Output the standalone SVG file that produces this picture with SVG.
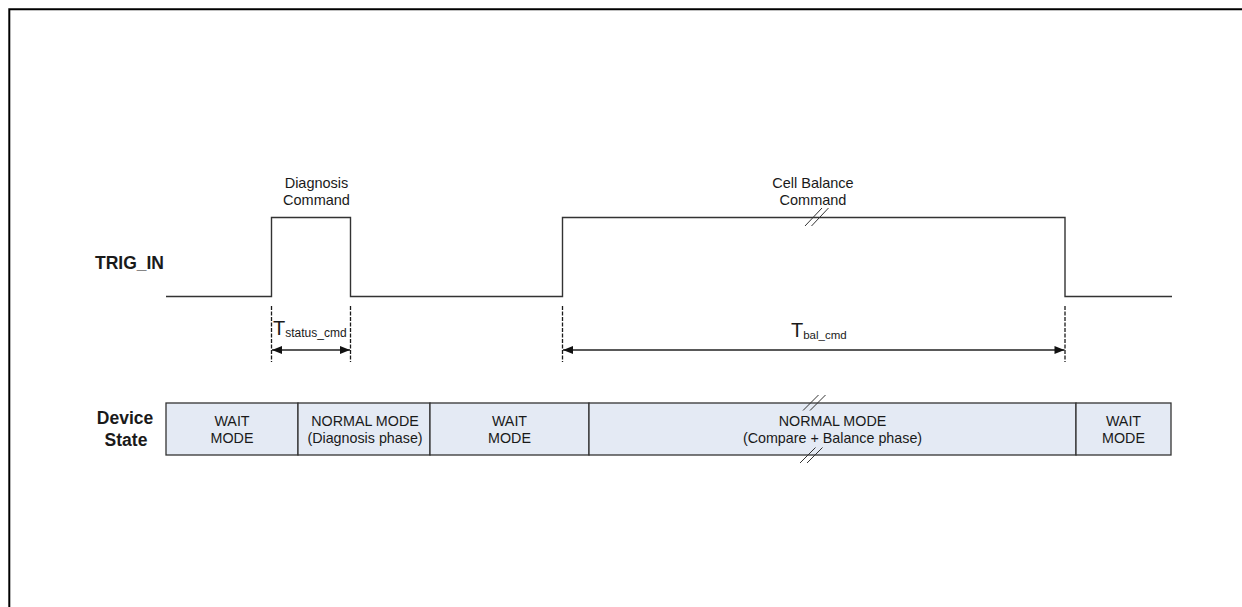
<svg xmlns="http://www.w3.org/2000/svg" width="1242" height="607" viewBox="0 0 1242 607">
  <defs>
    <marker id="arrow" viewBox="0 0 10 8" refX="10" refY="4" markerWidth="11" markerHeight="8" markerUnits="userSpaceOnUse" orient="auto-start-reverse">
      <path d="M0,0 L10,4 L0,8 Z" fill="#111"/>
    </marker>
    <style>
      text { font-family: "Liberation Sans", Arial, sans-serif; fill: #1a1a1a; }
      .lbl { font-size: 17.5px; font-weight: bold; text-anchor: middle; }
      .cmd { font-size: 14.5px; text-anchor: middle; }
      .mode { font-size: 14.3px; text-anchor: middle; }
      .sig { fill: none; stroke: #333; stroke-width: 1.4; }
      .ext { fill: none; stroke: #1a1a1a; stroke-width: 1.3; stroke-dasharray: 4 1.5; }
      .dim { fill: none; stroke: #222; stroke-width: 1.3; marker-start: url(#arrow); marker-end: url(#arrow); }
      .brk { fill: none; stroke: #333; stroke-width: 1; }
      .cell { fill: #e4eaf4; stroke: #333; stroke-width: 1.3; }
    </style>
  </defs>

  <rect width="1242" height="607" fill="#ffffff"/>

  <!-- frame -->
  <path d="M9.3,607 V9.3 H1242" fill="none" stroke="#000" stroke-width="2"/>

  <!-- row labels -->
  <g id="label-trig">
    <text class="lbl" x="129.5" y="269">TRIG_IN</text>
  </g>
  <g id="label-state">
    <text class="lbl" x="125" y="424">Device</text>
    <text class="lbl" x="126" y="446">State</text>
  </g>

  <!-- TRIG_IN waveform -->
  <g id="waveform">
    <path class="sig" d="M166,296.5 H271.5 V217.5 H350.5 V296.5 H562.5 V217.5 H1065 V296.5 H1172"/>
    <!-- time break on the long pulse -->
    <path class="brk" d="M805,226 L822,208 M811.5,226 L828.5,208"/>
  </g>

  <g id="cmd-diag">
    <text class="cmd" x="316.5" y="188">Diagnosis</text>
    <text class="cmd" x="316.5" y="205">Command</text>
  </g>
  <g id="cmd-bal">
    <text class="cmd" x="813" y="188">Cell Balance</text>
    <text class="cmd" x="813" y="205">Command</text>
  </g>

  <!-- timing dimensions -->
  <g id="connectors">
    <line class="ext" x1="271.5" y1="306" x2="271.5" y2="362"/>
    <line class="ext" x1="350.5" y1="306" x2="350.5" y2="362"/>
    <line class="dim" x1="272" y1="350" x2="350" y2="350"/>
    <line class="ext" x1="562.5" y1="306" x2="562.5" y2="362"/>
    <line class="ext" x1="1065" y1="306" x2="1065" y2="362"/>
    <line class="dim" x1="563" y1="350" x2="1064.5" y2="350"/>
  </g>

  <g id="t-status">
    <text x="273" y="335" font-size="20">T<tspan font-size="12" dy="2">status_cmd</tspan></text>
  </g>
  <g id="t-bal">
    <text x="791" y="337" font-size="20">T<tspan font-size="11.5" dy="2">bal_cmd</tspan></text>
  </g>

  <!-- device state bar -->
  <g id="state-wait-1">
    <rect class="cell" x="166" y="403" width="132" height="52"/>
    <text class="mode" x="232" y="426">WAIT</text>
    <text class="mode" x="232" y="443">MODE</text>
  </g>
  <g id="state-normal-diag">
    <rect class="cell" x="298" y="403" width="132" height="52"/>
    <text class="mode" x="365" y="426">NORMAL MODE</text>
    <text class="mode" x="365" y="443">(Diagnosis phase)</text>
  </g>
  <g id="state-wait-2">
    <rect class="cell" x="430" y="403" width="159" height="52"/>
    <text class="mode" x="509.5" y="426">WAIT</text>
    <text class="mode" x="509.5" y="443">MODE</text>
  </g>
  <g id="state-normal-bal">
    <rect class="cell" x="589" y="403" width="487" height="52"/>
    <text class="mode" x="832.5" y="426">NORMAL MODE</text>
    <text class="mode" x="832.5" y="443">(Compare + Balance phase)</text>
    <path class="brk" d="M803,410.5 L818.5,395 M810,410.5 L825.5,395"/>
    <path class="brk" d="M800,463 L815.5,447.5 M807,463 L822.5,447.5"/>
  </g>
  <g id="state-wait-3">
    <rect class="cell" x="1076" y="403" width="95" height="52"/>
    <text class="mode" x="1123.5" y="426">WAIT</text>
    <text class="mode" x="1123.5" y="443">MODE</text>
  </g>
</svg>
